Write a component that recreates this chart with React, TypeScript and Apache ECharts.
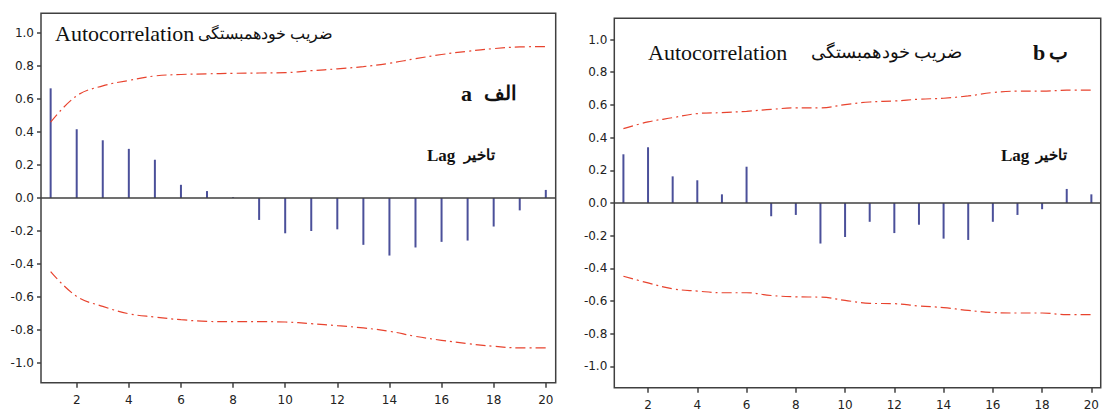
import React, { useEffect, useRef } from "react";
import * as echarts from "echarts";

const lags = [1, 2, 3, 4, 5, 6, 7, 8, 9, 10, 11, 12, 13, 14, 15, 16, 17, 18, 19, 20];
const xTicks = [2, 4, 6, 8, 10, 12, 14, 16, 18, 20];
const yTicks = [-1.0, -0.8, -0.6, -0.4, -0.2, 0.0, 0.2, 0.4, 0.6, 0.8, 1.0];

const acfA = [0.665, 0.417, 0.35, 0.298, 0.232, 0.08, 0.042, 0.005, -0.133, -0.214, -0.2, -0.19, -0.284, -0.349, -0.3, -0.266, -0.258, -0.173, -0.075, 0.049];
const upperA = [0.46, 0.62, 0.68, 0.713, 0.74, 0.749, 0.753, 0.756, 0.758, 0.76, 0.772, 0.783, 0.797, 0.817, 0.845, 0.87, 0.89, 0.906, 0.916, 0.918];
const lowerA = [-0.446, -0.597, -0.657, -0.702, -0.722, -0.738, -0.748, -0.75, -0.75, -0.752, -0.762, -0.774, -0.788, -0.808, -0.839, -0.863, -0.883, -0.899, -0.909, -0.909];

const acfB = [0.298, 0.341, 0.163, 0.139, 0.053, 0.222, -0.081, -0.073, -0.248, -0.208, -0.115, -0.184, -0.133, -0.218, -0.226, -0.115, -0.073, -0.038, 0.086, 0.053];
const upperB = [0.455, 0.496, 0.522, 0.547, 0.553, 0.561, 0.573, 0.582, 0.582, 0.602, 0.618, 0.624, 0.635, 0.641, 0.655, 0.676, 0.684, 0.684, 0.69, 0.69];
const lowerB = [-0.448, -0.489, -0.525, -0.539, -0.549, -0.549, -0.566, -0.574, -0.576, -0.596, -0.614, -0.616, -0.63, -0.64, -0.657, -0.67, -0.673, -0.673, -0.683, -0.683];

const titleEn = "Autocorrelation";
const titleFa = "ضریب خودهمبستگی";
const lagEn = "Lag";
const lagFa = "تاخیر";

const FRAME = "#404040";
const BAR = "#4b509a";
const RED = "#e8432e";
const LABEL_FONT = '"DejaVu Sans", sans-serif';
const SERIF = '"Liberation Serif", "Times New Roman", serif';

function pairs(vals: number[]) {
  return lags.map((l, i) => [l, vals[i]]);
}

function xAxisFor(gridIndex: number) {
  return {
    type: "value",
    gridIndex,
    min: 0.63,
    max: 20.38,
    position: "bottom",
    axisLine: { show: false, onZero: false },
    axisTick: {
      show: true,
      customValues: xTicks,
      length: 5,
      lineStyle: { color: FRAME, width: 1.5 },
    },
    axisLabel: {
      customValues: xTicks,
      margin: 11,
      color: "#222",
      fontSize: 12,
      fontFamily: LABEL_FONT,
    },
    splitLine: { show: false },
  };
}

function yAxisFor(gridIndex: number, lim: number) {
  return {
    type: "value",
    gridIndex,
    min: -lim,
    max: lim,
    axisLine: { show: false },
    axisTick: {
      show: true,
      customValues: yTicks,
      length: 4,
      lineStyle: { color: FRAME, width: 1.5 },
    },
    axisLabel: {
      customValues: yTicks,
      margin: 7,
      color: "#222",
      fontSize: 12,
      fontFamily: LABEL_FONT,
      formatter: (v: number) => v.toFixed(1),
    },
    splitLine: { show: false },
  };
}

function seriesFor(idx: number, acf: number[], up: number[], lo: number[]) {
  const band = (d: number[]) => ({
    type: "line",
    xAxisIndex: idx,
    yAxisIndex: idx,
    data: pairs(d),
    smooth: 0.4,
    showSymbol: false,
    symbol: "none",
    lineStyle: { color: RED, width: 1.2, type: [10, 4, 2, 4] },
    z: 3,
  });
  return [
    {
      type: "bar",
      xAxisIndex: idx,
      yAxisIndex: idx,
      data: pairs(acf),
      barWidth: 2,
      itemStyle: { color: BAR },
      z: 2,
      markLine: {
        silent: true,
        symbol: ["none", "none"],
        label: { show: false },
        lineStyle: { color: FRAME, width: 1.5, type: "solid" },
        data: [{ yAxis: 0 }],
      },
    },
    band(up),
    band(lo),
  ];
}

function txt(x: number, y: number, text: string, font: string, align: string) {
  return {
    type: "text",
    x,
    y,
    silent: true,
    style: { text, font, fill: "#111", align, verticalAlign: "middle" },
  };
}

export default function App() {
  const ref = useRef<HTMLDivElement>(null);
  useEffect(() => {
    if (!ref.current) return;
    const chart = echarts.init(ref.current, null, { renderer: "svg" });
    chart.setOption({
      animation: false,
      backgroundColor: "#ffffff",
      grid: [
        { left: 41, top: 13.3, right: 546.3, bottom: 29.3, show: true, borderColor: FRAME, borderWidth: 1.5, backgroundColor: "transparent" },
        { left: 614.3, top: 18.3, right: -10, bottom: 24.3, show: true, borderColor: FRAME, borderWidth: 1.5, backgroundColor: "transparent" },
      ],
      xAxis: [xAxisFor(0), xAxisFor(1)],
      yAxis: [yAxisFor(0, 1.12), yAxisFor(1, 1.13)],
      series: [...seriesFor(0, acfA, upperA, lowerA), ...seriesFor(1, acfB, upperB, lowerB)],
      graphic: [
        txt(55, 33, titleEn, `22px ${SERIF}`, "left"),
        txt(333, 33, titleFa, `16px ${SERIF}`, "right"),
        txt(461, 93, "a", `bold 22px ${SERIF}`, "left"),
        txt(517, 93, "الف", `bold 20px ${SERIF}`, "right"),
        txt(427, 155, lagEn, `bold 17px ${SERIF}`, "left"),
        txt(495, 155, lagFa, `bold 15px ${SERIF}`, "right"),
        txt(648, 52, titleEn, `22px ${SERIF}`, "left"),
        txt(962, 52, titleFa, `18px ${SERIF}`, "right"),
        txt(1033, 52, "b", `bold 22px ${SERIF}`, "left"),
        txt(1068, 52, "ب", `bold 20px ${SERIF}`, "right"),
        txt(1001, 155, lagEn, `bold 17px ${SERIF}`, "left"),
        txt(1067, 155, lagFa, `bold 15px ${SERIF}`, "right"),
      ],
    });
    return () => chart.dispose();
  }, []);
  return (
    <div
      ref={ref}
      style={{ position: "absolute", left: 0, top: 0, width: 1102, height: 412 }}
    />
  );
}
